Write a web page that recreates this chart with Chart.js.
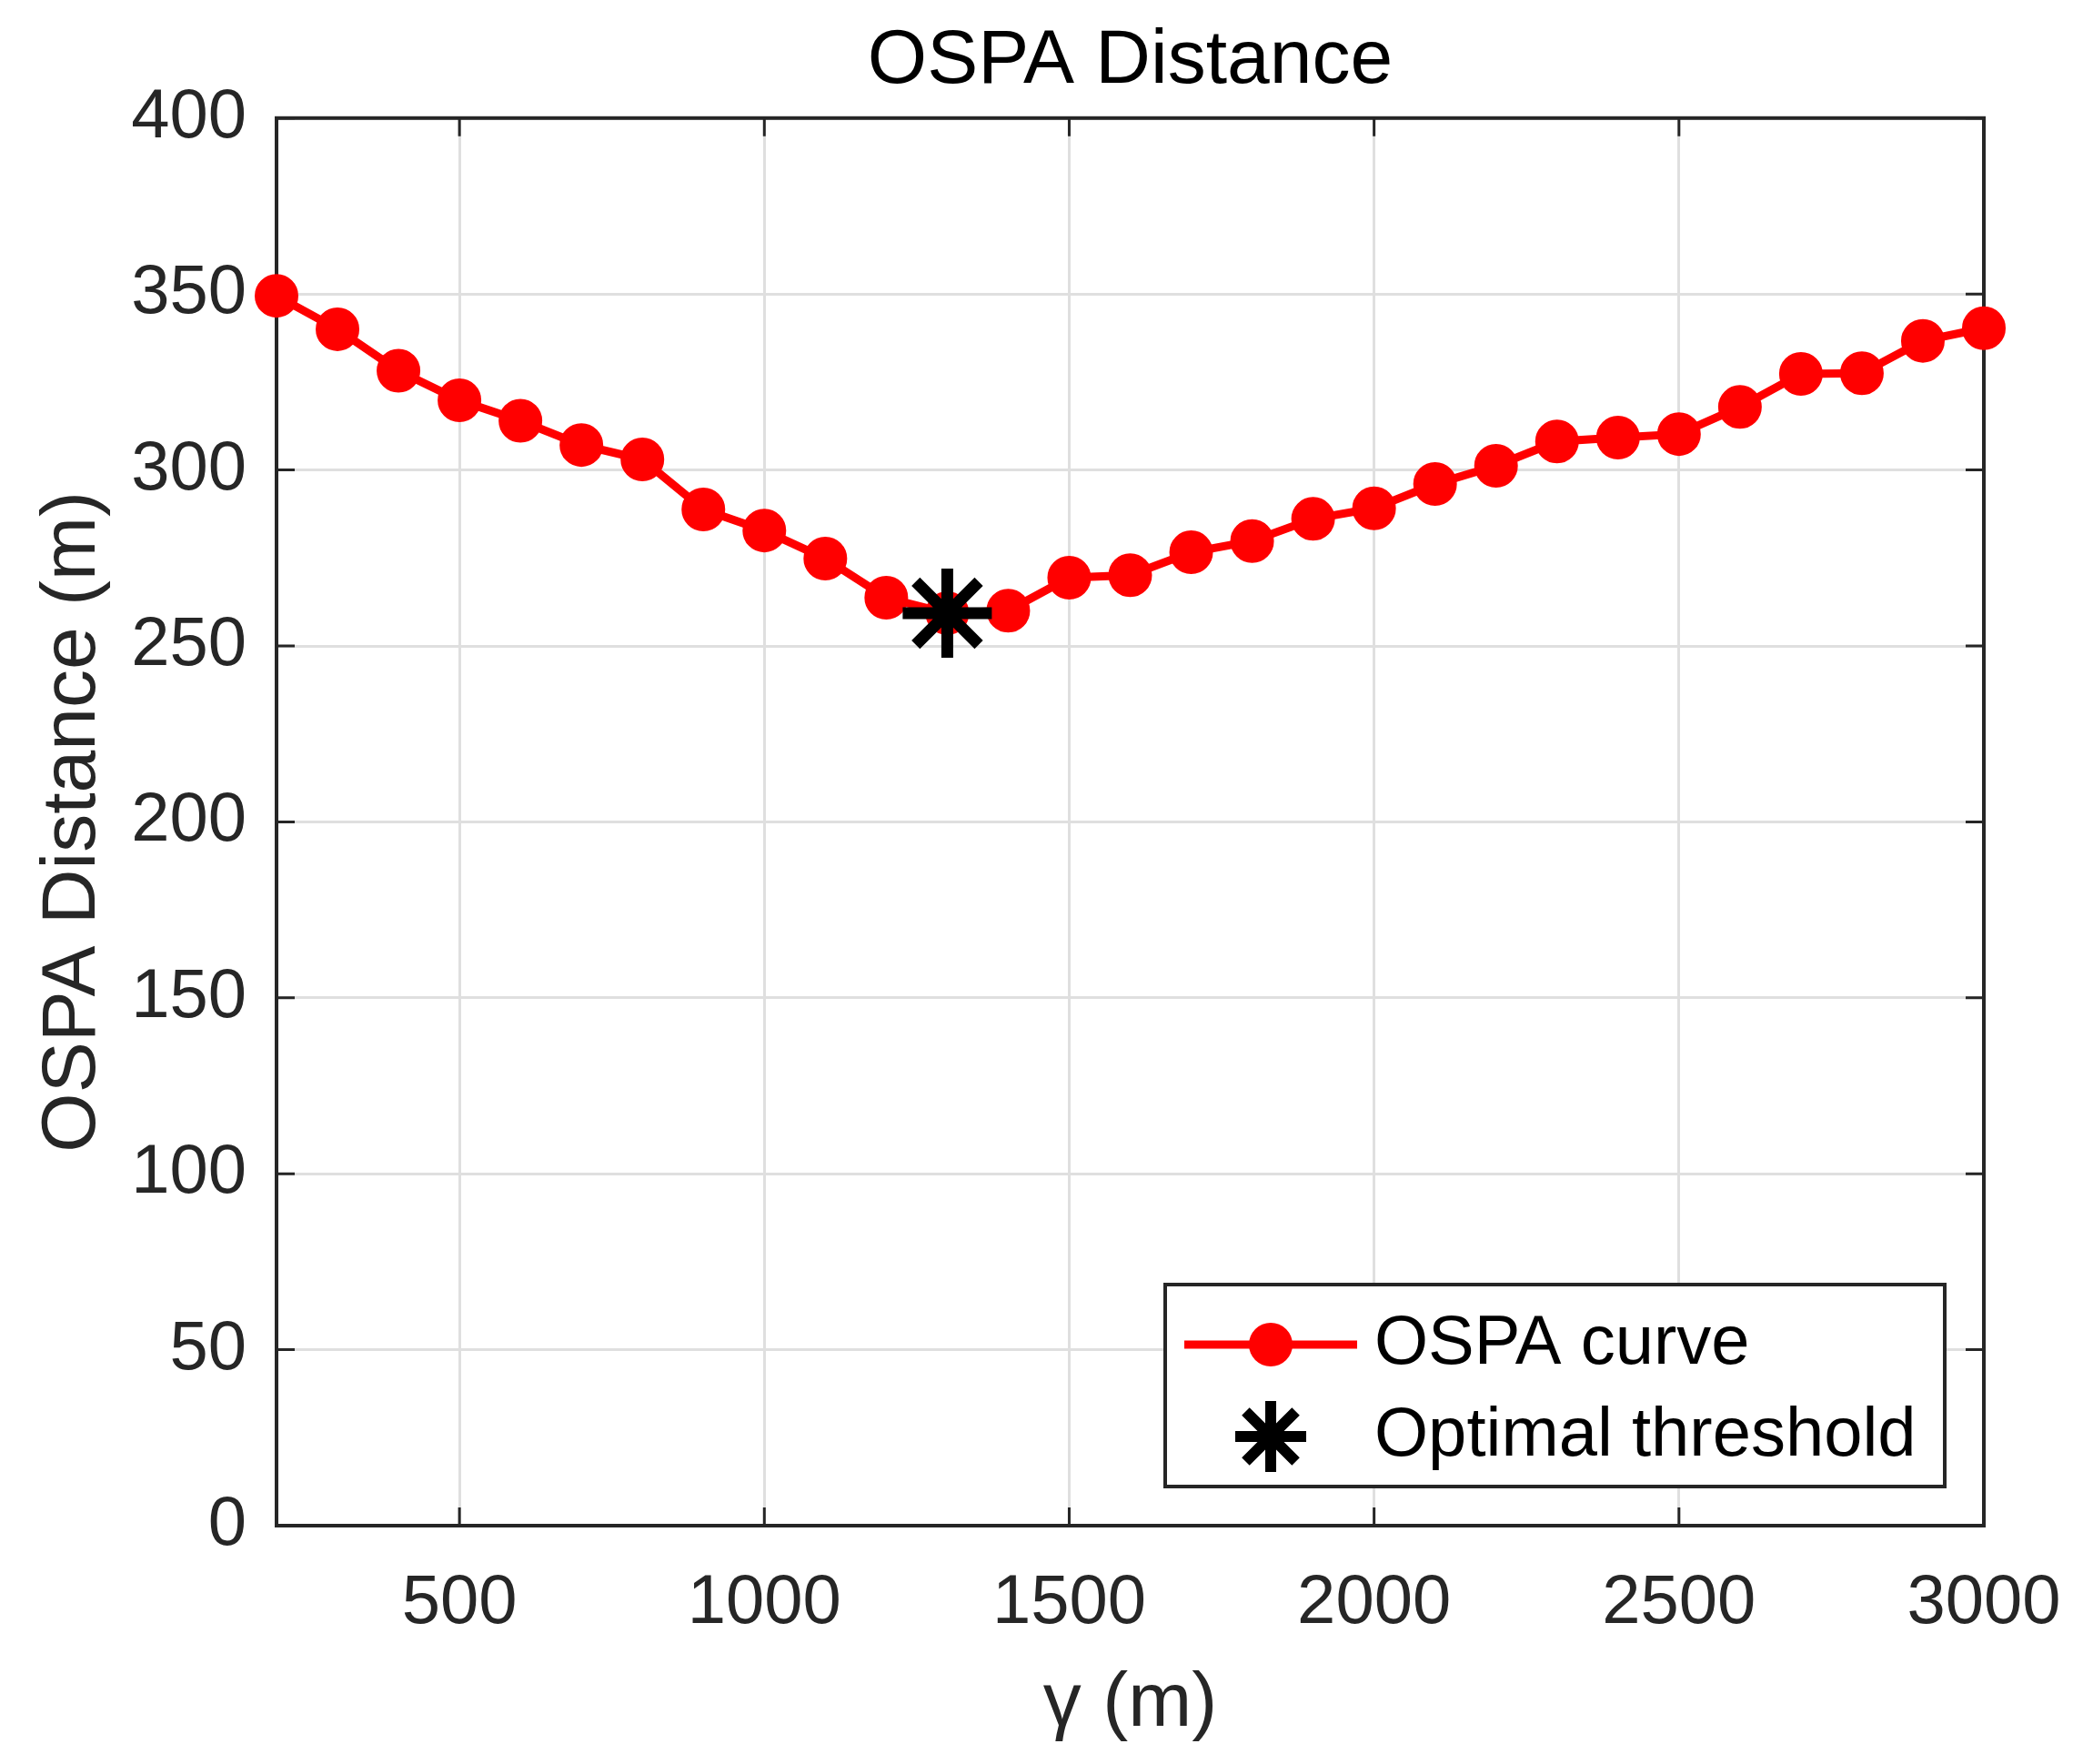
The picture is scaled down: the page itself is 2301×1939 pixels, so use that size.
<!DOCTYPE html>
<html>
<head>
<meta charset="utf-8">
<title>OSPA Distance</title>
<script src="https://cdn.jsdelivr.net/npm/chart.js@4.4.1/dist/chart.umd.min.js"></script>
<style>
  html, body { margin: 0; padding: 0; background: #fff; }
  #wrap { width: 2301px; height: 1939px; }
</style>
</head>
<body>
<div id="wrap"><canvas id="ospaChart" width="2301" height="1939"></canvas></div>
<script>
// Threshold gamma (m) and the OSPA distance
const gammaValues = [200, 300, 400, 500, 600, 700, 800, 900, 1000, 1100, 1200, 1300, 1400, 1500,
  1600, 1700, 1800, 1900, 2000, 2100, 2200, 2300, 2400, 2500, 2600, 2700, 2800, 2900, 3000];
const ospaValues = [349.5, 340, 328.2, 319.8, 314, 307.1, 303, 288.8, 282.8, 274.8, 263.7, 259.3, 260, 269.4,
  270.1, 276.6, 279.8, 286.1, 289.1, 296, 301.2, 308.1, 309.2, 310.2, 317.9, 327.3, 327.5, 336.7, 340.3];

// Optimal threshold marker
const optimalGamma = [1300];
const optimalOspa = [259.3];

// Tick labels
const xTickValues = [500, 1000, 1500, 2000, 2500, 3000];
const yTickValues = [0, 50, 100, 150, 200, 250, 300, 350, 400];

const fontFamily = '"Liberation Sans", Arial, Helvetica, sans-serif';
const axisColor = '#262626';
const gridColor = '#dfdfdf';

Chart.defaults.font.family = fontFamily;

// Full box and inward tick marks like the original figure
const boxPlugin = {
  id: 'boxPlugin',
  beforeDatasetsDraw(chart) {
    const { ctx, chartArea: area, scales } = chart;
    const tickLen = 20;
    ctx.save();
    ctx.strokeStyle = axisColor;
    ctx.lineWidth = 3;
    ctx.beginPath();
    yTickValues.forEach(v => {
      const y = scales.y.getPixelForValue(v);
      ctx.moveTo(area.left, y);
      ctx.lineTo(area.left + tickLen, y);
      ctx.moveTo(area.right, y);
      ctx.lineTo(area.right - tickLen, y);
    });
    xTickValues.forEach(v => {
      const x = scales.x.getPixelForValue(v);
      ctx.moveTo(x, area.bottom);
      ctx.lineTo(x, area.bottom - tickLen);
      ctx.moveTo(x, area.top);
      ctx.lineTo(x, area.top + tickLen);
    });
    ctx.stroke();
    ctx.lineWidth = 4;
    ctx.strokeRect(area.left, area.top, area.right - area.left, area.bottom - area.top);
    ctx.restore();
  }
};

// Legend box in the lower right corner of the axes
const legendPlugin = {
  id: 'legendPlugin',
  afterDraw(chart) {
    const { ctx, chartArea: area } = chart;
    const width = 857;
    const height = 222;
    const left = area.right - 43 - width;
    const top = area.bottom - 43 - height;
    const curve = chart.data.datasets[0];
    const star = chart.data.datasets[1];

    ctx.save();
    ctx.fillStyle = '#ffffff';
    ctx.fillRect(left, top, width, height);
    ctx.strokeStyle = axisColor;
    ctx.lineWidth = 4;
    ctx.strokeRect(left, top, width, height);

    const sampleX = left + 116;
    const row1 = top + 66;
    const row2 = top + 167;

    // OSPA curve sample
    ctx.strokeStyle = curve.borderColor;
    ctx.lineWidth = curve.borderWidth;
    ctx.beginPath();
    ctx.moveTo(left + 21, row1);
    ctx.lineTo(left + 211, row1);
    ctx.stroke();
    ctx.fillStyle = curve.pointBackgroundColor;
    ctx.beginPath();
    ctx.arc(sampleX, row1, curve.pointRadius + 1, 0, Math.PI * 2);
    ctx.fill();

    // Optimal threshold sample (asterisk)
    const r = 39;
    const d = r * Math.cos(Math.PI / 4);
    ctx.strokeStyle = star.pointBorderColor;
    ctx.lineWidth = 12;
    ctx.beginPath();
    ctx.moveTo(sampleX - r, row2); ctx.lineTo(sampleX + r, row2);
    ctx.moveTo(sampleX, row2 - r); ctx.lineTo(sampleX, row2 + r);
    ctx.moveTo(sampleX - d, row2 - d); ctx.lineTo(sampleX + d, row2 + d);
    ctx.moveTo(sampleX - d, row2 + d); ctx.lineTo(sampleX + d, row2 - d);
    ctx.stroke();

    ctx.fillStyle = '#000000';
    ctx.font = '76px ' + fontFamily;
    ctx.textAlign = 'left';
    ctx.textBaseline = 'middle';
    ctx.fillText(curve.label, left + 230, row1);
    ctx.fillText(star.label, left + 230, row2);
    ctx.restore();
  }
};

const ctx = document.getElementById('ospaChart').getContext('2d');
const ospaChart = new Chart(ctx, {
  type: 'line',
  data: {
    datasets: [{
      label: 'OSPA curve',
      data: gammaValues.map((g, i) => ({ x: g, y: ospaValues[i] })),
      borderColor: '#ff0000',
      backgroundColor: '#ff0000',
      borderWidth: 9,
      pointRadius: 23,
      pointBorderWidth: 2,
      pointBackgroundColor: '#ff0000',
      pointBorderColor: '#ff0000',
      tension: 0,
      clip: false,
      order: 2
    }, {
      label: 'Optimal threshold',
      data: optimalGamma.map((g, i) => ({ x: g, y: optimalOspa[i] })),
      showLine: false,
      pointStyle: 'star',
      pointRadius: 49,
      pointBorderWidth: 13,
      pointBorderColor: '#000000',
      pointBackgroundColor: '#000000',
      clip: false,
      order: 1
    }]
  },
  options: {
    responsive: false,
    animation: false,
    devicePixelRatio: 1,
    layout: { padding: { left: 0, right: 120, top: 1, bottom: 0 } },
    plugins: {
      legend: { display: false },
      tooltip: { enabled: false },
      title: {
        display: true,
        text: 'OSPA Distance',
        color: '#000000',
        fullSize: false,
        font: { size: 84, weight: 'normal' },
        padding: { top: 16, bottom: 12 }
      }
    },
    scales: {
      x: {
        type: 'linear',
        min: 200,
        max: 3000,
        afterBuildTicks: scale => { scale.ticks = xTickValues.map(v => ({ value: v })); },
        afterFit: scale => {
          scale.height = 262;
          scale.paddingLeft = 0;
          scale.paddingRight = 0;
        },
        ticks: {
          font: { size: 76 },
          color: axisColor,
          padding: 40,
          maxRotation: 0,
          autoSkip: false,
          callback: value => String(value)
        },
        grid: { color: gridColor, lineWidth: 3, drawTicks: false },
        border: { display: true, color: axisColor, width: 4 },
        title: {
          display: true,
          text: 'γ (m)',
          color: axisColor,
          font: { size: 84 },
          padding: { top: 0, bottom: 15 }
        }
      },
      y: {
        type: 'linear',
        min: 0,
        max: 400,
        afterBuildTicks: scale => { scale.ticks = yTickValues.map(v => ({ value: v })); },
        afterFit: scale => { scale.width = 304; },
        ticks: {
          font: { size: 76 },
          color: axisColor,
          padding: 33,
          autoSkip: false,
          callback: value => String(value)
        },
        grid: { color: gridColor, lineWidth: 3, drawTicks: false },
        border: { display: true, color: axisColor, width: 4 },
        title: {
          display: true,
          text: 'OSPA Distance (m)',
          color: axisColor,
          font: { size: 84 },
          padding: { top: 30, bottom: 0 }
        }
      }
    }
  },
  plugins: [boxPlugin, legendPlugin]
});
</script>
</body>
</html>
